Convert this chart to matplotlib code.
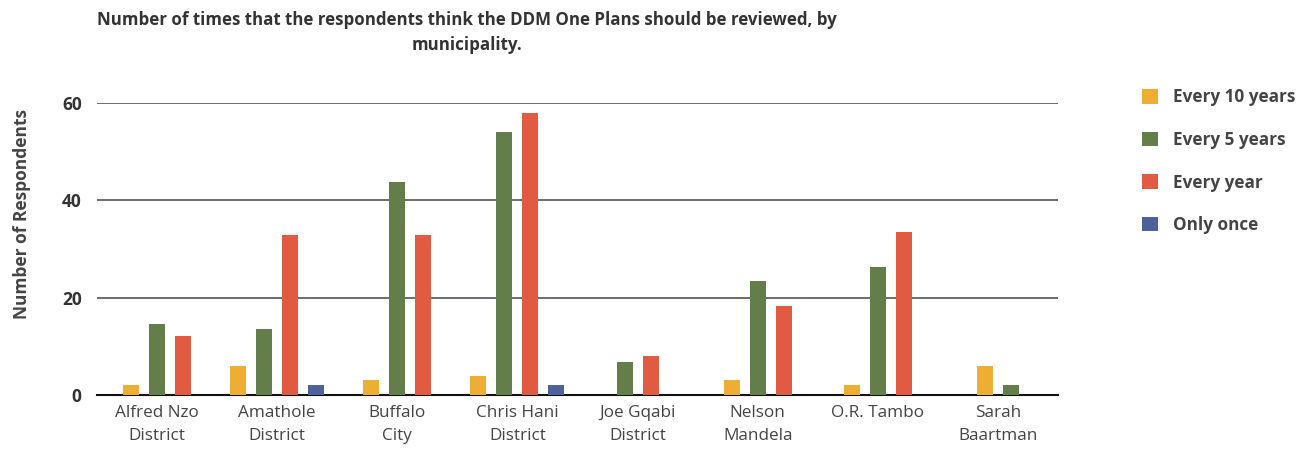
import matplotlib
matplotlib.use("Agg")
import matplotlib.pyplot as plt
from matplotlib.patches import Patch
import numpy as np

categories = ["Alfred Nzo\nDistrict", "Amathole\nDistrict", "Buffalo\nCity", "Chris Hani\nDistrict",
              "Joe Gqabi\nDistrict", "Nelson\nMandela", "O.R. Tambo", "Sarah\nBaartman"]
series_names = ["Every 10 years", "Every 5 years", "Every year", "Only once"]
every_10_years = [2, 6, 3, 4, 0, 3, 2, 6]
every_5_years = [14.5, 13.6, 43.7, 54, 6.8, 23.5, 26.2, 2]
every_year = [12.2, 32.8, 32.8, 58, 8, 18.2, 33.4, 0]
only_once = [0, 2, 0, 2, 0, 0, 0, 0]
colors = ["#EEAD33", "#637E4B", "#E15B42", "#4E6299"]
yticks = [0, 20, 40, 60]

plt.rcParams['font.family'] = ['Open Sans', 'DejaVu Sans']

W, H = 1299, 451
fig = plt.figure(figsize=(W / 100, H / 100), dpi=100)
ax = fig.add_axes([97 / W, 1 - 395 / H, (1058 - 97) / W, (395 - 103) / H])

series = [every_10_years, every_5_years, every_year, only_once]
bw = 16 / 120
pitch = 26 / 120
for i in range(len(categories)):
    present = [k for k in range(len(series)) if series[k][i] > 0]
    n = len(present)
    for j, k in enumerate(present):
        off = (j - (n - 1) / 2) * pitch
        ax.bar(i + off, series[k][i], width=bw, color=colors[k], zorder=3)

ax.set_xlim(-0.5, len(categories) - 0.5)
ax.set_ylim(0, 60)
ax.set_yticks(yticks)
ax.set_yticklabels([str(t) for t in yticks], fontsize=12.5, fontweight='bold', color='#333333')
ax.set_xticks(range(len(categories)))
ax.set_xticklabels(categories, fontsize=12.3, color='#444444', linespacing=1.62)
ax.tick_params(axis='both', length=0)
ax.tick_params(axis='y', pad=11)
ax.tick_params(axis='x', pad=7)
for s in ['top', 'right', 'left']:
    ax.spines[s].set_visible(False)
ax.spines['bottom'].set_color('#111111')
ax.spines['bottom'].set_linewidth(1.5)
for t in yticks[1:]:
    ax.axhline(t, color='#555555', lw=1.2, zorder=1)

fig.text(22 / W, 1 - 214 / H, "Number of Respondents", rotation=90, ha='center', va='center',
         fontsize=12.5, fontweight='bold', color='#444444')

fig.text(467 / W, 1 - 20 / H, "Number of times that the respondents think the DDM One Plans should be reviewed, by",
         ha='center', va='center', fontsize=12.2, fontweight='bold', color='#333333')
fig.text(467 / W, 1 - 45 / H, "municipality.", ha='center', va='center', fontsize=12.2,
         fontweight='bold', color='#333333')

handles = [Patch(facecolor=c, edgecolor='none') for c in colors]
leg = fig.legend(handles, series_names, loc='upper left', bbox_to_anchor=(1127 / W, 1 - 73 / H),
                 frameon=False, handlelength=0.92, handleheight=0.92, handletextpad=0.9,
                 labelspacing=1.44, prop={'weight': 'bold', 'size': 12.3})
for t in leg.get_texts():
    t.set_color('#444444')

fig.savefig("out.png", dpi=100)
